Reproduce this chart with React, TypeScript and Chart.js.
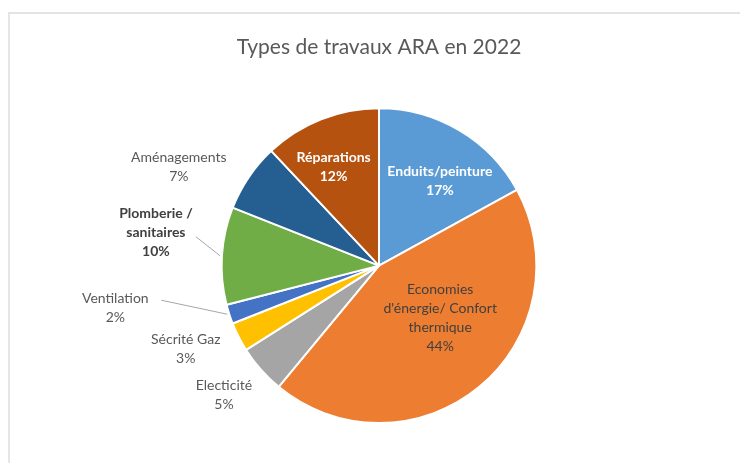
import { useRef, useEffect } from "react";
import { Chart, registerables } from "chart.js";

Chart.register(...registerables);

const title = "Types de travaux ARA en 2022";

const categories = [
  "Enduits/peinture",
  "Economies d'énergie/ Confort thermique",
  "Electicité",
  "Sécrité Gaz",
  "Ventilation",
  "Plomberie / sanitaires",
  "Aménagements",
  "Réparations",
];

// label text split on the lines used in the picture
const labelLines = [
  ["Enduits/peinture"],
  ["Economies", "d'énergie/ Confort", "thermique"],
  ["Electicité"],
  ["Sécrité Gaz"],
  ["Ventilation"],
  ["Plomberie /", "sanitaires"],
  ["Aménagements"],
  ["Réparations"],
];

const values = [17, 44, 5, 3, 2, 10, 7, 12];

const colors = [
  "#5B9BD5",
  "#ED7D31",
  "#A5A5A5",
  "#FFC000",
  "#4472C4",
  "#70AD47",
  "#255E91",
  "#B5520F",
];

type Placement = {
  r: number; // fraction of radius along the slice's mid angle
  dx: number;
  dy: number;
  color: string;
  bold: boolean;
  leader?: [number, number]; // leader start, relative to label anchor
};

const placements: Placement[] = [
  { r: 0.66, dx: 8, dy: 5, color: "#ffffff", bold: true },
  { r: 0.55, dx: 6, dy: -14, color: "#404040", bold: false },
  { r: 1, dx: -37, dy: 25, color: "#595959", bold: false },
  { r: 1, dx: -53, dy: 12, color: "#595959", bold: false },
  { r: 1, dx: -114, dy: -6, color: "#595959", bold: false, leader: [46, -8] },
  { r: 1, dx: -66, dy: -23, color: "#404040", bold: true, leader: [40, 4] },
  { r: 1, dx: -70, dy: -10, color: "#595959", bold: false },
  { r: 0.68, dx: -6, dy: 1, color: "#ffffff", bold: true },
];

const FONT = "Lato, 'Open Sans', sans-serif";

const sliceLabels = {
  id: "sliceLabels",
  afterDatasetsDraw(chart: Chart) {
    const ctx = chart.ctx;
    const meta = chart.getDatasetMeta(0);
    const total = values.reduce((a, b) => a + b, 0);
    meta.data.forEach((el: any, i: number) => {
      const { x, y, startAngle, endAngle, outerRadius } = el.getProps(
        ["x", "y", "startAngle", "endAngle", "outerRadius"],
        true
      );
      const mid = (startAngle + endAngle) / 2;
      const p = placements[i];
      const ex = x + Math.cos(mid) * outerRadius;
      const ey = y + Math.sin(mid) * outerRadius;
      const ax = x + Math.cos(mid) * outerRadius * p.r + p.dx;
      const ay = y + Math.sin(mid) * outerRadius * p.r + p.dy;
      const lines = [...labelLines[i], Math.round((values[i] / total) * 100) + "%"];
      const lh = 19;

      ctx.save();
      if (p.leader) {
        ctx.strokeStyle = "#a6a6a6";
        ctx.lineWidth = 1;
        ctx.beginPath();
        ctx.moveTo(ax + p.leader[0], ay + p.leader[1]);
        ctx.lineTo(ex - 2, ey);
        ctx.stroke();
      }
      ctx.fillStyle = p.color;
      ctx.font = `${p.bold ? "bold " : ""}14px ${FONT}`;
      ctx.textAlign = "center";
      ctx.textBaseline = "middle";
      const top = ay - ((lines.length - 1) * lh) / 2;
      lines.forEach((t, k) => ctx.fillText(t, ax, top + k * lh));
      ctx.restore();
    });
  },
};

const App = () => {
  const chartRef = useRef<HTMLCanvasElement | null>(null);
  const chartInstance = useRef<Chart | null>(null);

  useEffect(() => {
    if (!chartRef.current) return;
    if (chartInstance.current) chartInstance.current.destroy();

    chartInstance.current = new Chart(chartRef.current, {
      type: "pie",
      data: {
        labels: categories,
        datasets: [
          {
            data: values,
            backgroundColor: colors,
            borderColor: "#ffffff",
            borderWidth: 2,
          },
        ],
      },
      options: {
        responsive: false,
        animation: false,
        layout: {
          padding: { left: 220, right: 202, top: 0, bottom: 39 },
        },
        plugins: {
          legend: { display: false },
          tooltip: { enabled: false },
          title: {
            display: true,
            text: title,
            color: "#595959",
            font: { family: FONT, size: 21, weight: "normal" },
            padding: { top: 35, bottom: 47 },
          },
        },
      },
      plugins: [sliceLabels],
    });

    return () => {
      if (chartInstance.current) {
        chartInstance.current.destroy();
        chartInstance.current = null;
      }
    };
  }, []);

  return (
    <div
      style={{
        position: "fixed",
        left: 0,
        top: 0,
        width: 740,
        height: 463,
        background: "#ffffff",
      }}
    >
      <div
        style={{
          position: "absolute",
          left: 8,
          top: 12,
          right: 0,
          bottom: 0,
          borderTop: "2px solid #e3e3e3",
          borderLeft: "2px solid #e6e6e6",
        }}
      />
      <canvas
        ref={chartRef}
        width={740}
        height={463}
        style={{ position: "absolute", left: 0, top: 0 }}
      />
    </div>
  );
};

export default App;
